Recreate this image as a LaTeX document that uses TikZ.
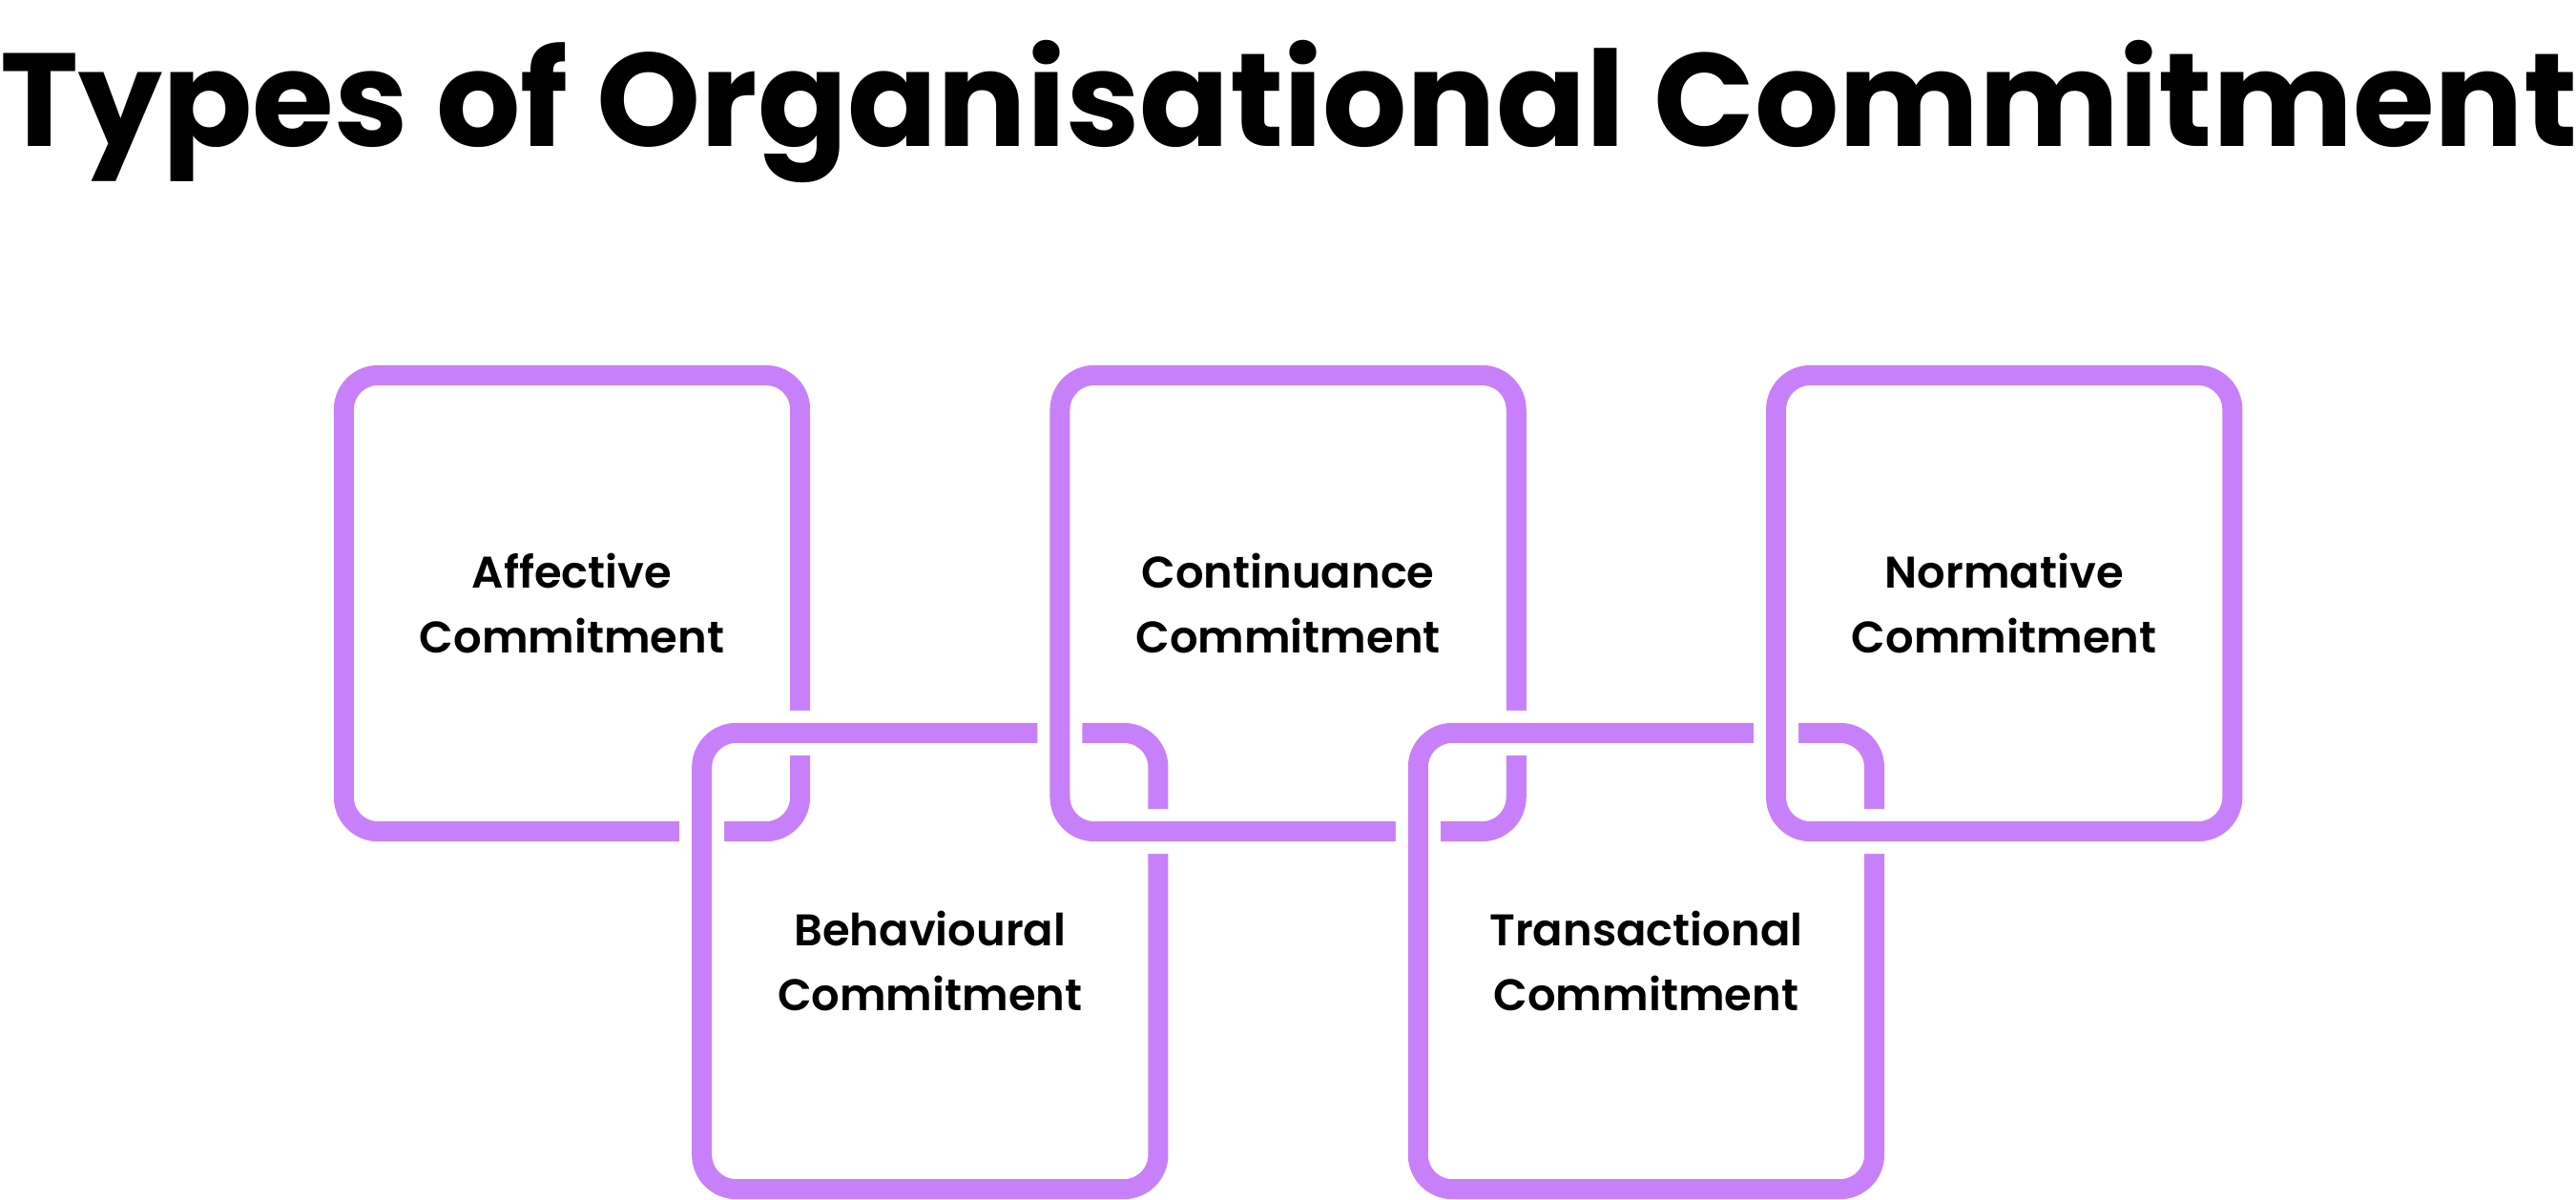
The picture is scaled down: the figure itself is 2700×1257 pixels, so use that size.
\documentclass[tikz,border=0pt]{standalone}
\usepackage{fontspec}
\setmainfont{Poppins}
\newfontfamily\titlefont{Poppins Bold}
\newfontfamily\labelfont{Poppins SemiBold}
\definecolor{lilac}{RGB}{200,128,250}
\tikzset{
  ring/.style={draw=lilac, line width=0.21cm, rounded corners=0.36cm,
    minimum width=4.78cm, minimum height=4.78cm, inner sep=0pt, align=center,
    font=\labelfont\fontsize{13.2pt}{19.6pt}\selectfont,
    preaction={draw=white, line width=0.47cm}},
  heading/.style={anchor=base west, inner sep=0pt,
    font=\titlefont\fontsize{39.5pt}{42pt}\selectfont}
}
\begin{document}
\begin{tikzpicture}[x=0.01cm,y=-0.01cm]
\useasboundingbox[fill=white] (0,0) rectangle (2700,1257);
\node[heading] (title) at (0,153) {Types of Organisational Commitment};
\node[ring] (affective) at (599.5,632.5) {Affective\\Commitment};
\node[ring] (behavioural) at (974.8,1007.5) {Behavioural\\Commitment};
\node[ring] (continuance) at (1350.1,632.5) {Continuance\\Commitment};
\node[ring] (transactional) at (1725.4,1007.5) {Transactional\\Commitment};
\node[ring] (normative) at (2100.7,632.5) {Normative\\Commitment};
\end{tikzpicture}
\end{document}
